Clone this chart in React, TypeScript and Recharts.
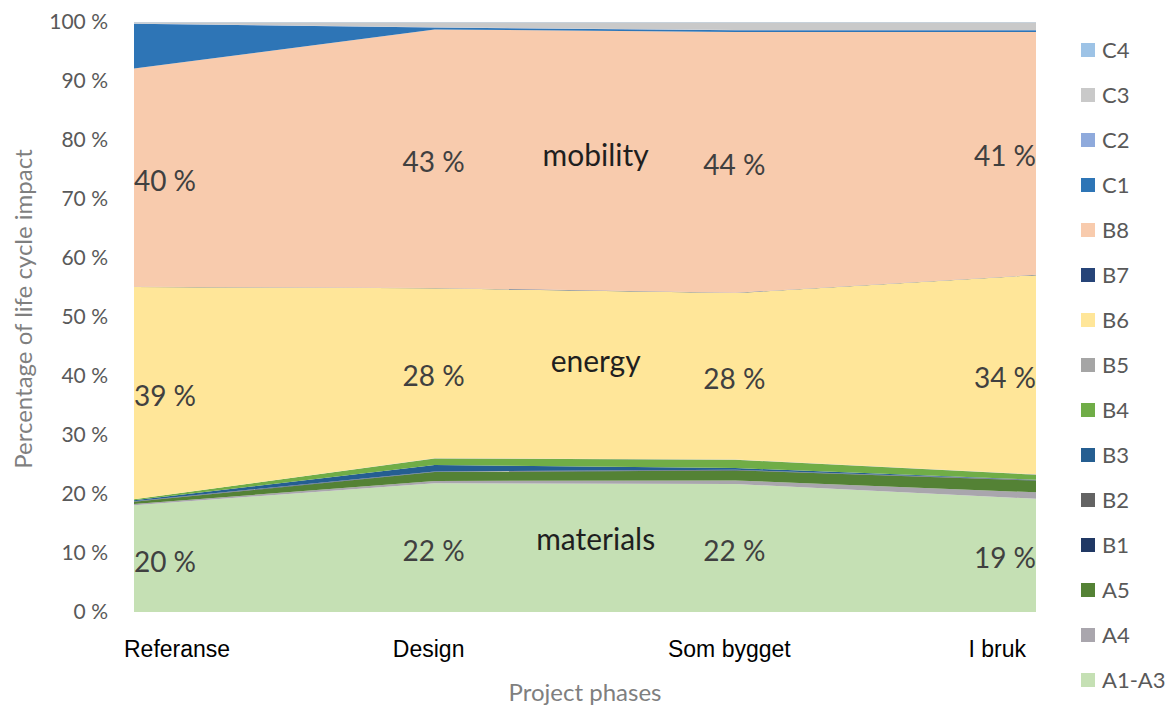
import { AreaChart, Area, XAxis, YAxis, ReferenceDot } from "recharts";

const phases = ["Referanse", "Design", "Som bygget", "I bruk"];

// share of life cycle impact per module (%)
const a1a3 = [18.1, 21.8, 21.7, 19.2];
const a4 = [0.2, 0.4, 0.6, 1.1];
const a5 = [0.4, 1.5, 1.7, 2.0];
const b1 = [0.05, 0.05, 0.05, 0.05];
const b2 = [0.05, 0.05, 0.05, 0.05];
const b3 = [0.15, 1.1, 0.3, 0.05];
const b4 = [0.15, 1.1, 1.4, 0.85];
const b5 = [0.0, 0.05, 0.05, 0.05];
const b6 = [36.0, 28.8, 28.2, 33.8];
const b7 = [0.05, 0.05, 0.05, 0.05];
const b8 = [37.0, 43.8, 44.2, 41.2];
const c1 = [7.6, 0.3, 0.3, 0.3];
const c2 = [0.05, 0.05, 0.05, 0.05];
const c3 = [0.2, 0.85, 1.3, 1.3];
const c4 = [0.05, 0.05, 0.05, 0.05];

// printed labels
const mobilityPct = [40, 43, 44, 41];
const energyPct = [39, 28, 28, 34];
const materialsPct = [20, 22, 22, 19];
const groupNames = ["mobility", "energy", "materials"];

const yTicks = [0, 0.1, 0.2, 0.3, 0.4, 0.5, 0.6, 0.7, 0.8, 0.9, 1];

const series = [
  { key: "A1-A3", values: a1a3, color: "#c5e0b4" },
  { key: "A4", values: a4, color: "#a9a6ad" },
  { key: "A5", values: a5, color: "#548235" },
  { key: "B1", values: b1, color: "#203864" },
  { key: "B2", values: b2, color: "#636363" },
  { key: "B3", values: b3, color: "#255e91" },
  { key: "B4", values: b4, color: "#70ad47" },
  { key: "B5", values: b5, color: "#a5a5a5" },
  { key: "B6", values: b6, color: "#ffe699" },
  { key: "B7", values: b7, color: "#264478" },
  { key: "B8", values: b8, color: "#f8cbad" },
  { key: "C1", values: c1, color: "#2e75b6" },
  { key: "C2", values: c2, color: "#8faadc" },
  { key: "C3", values: c3, color: "#c9c9c9" },
  { key: "C4", values: c4, color: "#9dc3e6" },
];

const data = phases.map((phase, i) => {
  const row: Record<string, string | number> = { phase };
  series.forEach((s) => (row[s.key] = s.values[i]));
  return row;
});

// middle of a band, as a share of the stacked total
const bandMid = (key: string, i: number) => {
  const total = series.reduce((sum, s) => sum + s.values[i], 0);
  let below = 0;
  for (const s of series) {
    if (s.key === key) return (below + s.values[i] / 2) / total;
    below += s.values[i];
  }
  return 0;
};

const pctShift = [32, 0, 0, -30];
const calibri = "Lato, 'Open Sans', sans-serif";

const textLabel = (text: string, dx: number, dy: number, size: number, color: string) => (props: any) => {
  const vb = props.viewBox || { x: 0, y: 0 };
  return (
    <text x={vb.x + dx} y={vb.y + dy} textAnchor="middle" dominantBaseline="central" fontSize={size} fill={color} fontFamily={calibri}>
      {text}
    </text>
  );
};

const XTick = ({ x = 0, y = 0, payload, index }: any) => {
  const last = index === phases.length - 1;
  const anchor = index === 0 ? "start" : last ? "end" : "middle";
  const dx = index === 0 ? -10 : last ? -10 : -6;
  return (
    <text x={x + dx} y={y} dy="0.71em" textAnchor={anchor} fontSize={23} fill="#000" fontFamily="'Liberation Sans', Arial, sans-serif">
      {payload?.value}
    </text>
  );
};

const LegendBox = () => (
  <div style={{ position: "absolute", left: 1081, top: 27, width: 87, display: "flex", flexDirection: "column" }}>
    {[...series].reverse().map((s) => (
      <div key={s.key} style={{ height: 45, display: "flex", alignItems: "center" }}>
        <span style={{ width: 14, height: 14, background: s.color, marginRight: 7, display: "inline-block", flexShrink: 0 }} />
        <span style={{ fontSize: 22, color: "#595959", fontFamily: calibri, whiteSpace: "nowrap" }}>{s.key}</span>
      </div>
    ))}
  </div>
);

const groups = [
  { key: "B8", pct: mobilityPct },
  { key: "B6", pct: energyPct },
  { key: "A1-A3", pct: materialsPct },
];
const groupDy = [-6, -14, -9];

const App = () => {
  return (
    <div style={{ position: "absolute", left: 0, top: 0, width: 1168, height: 705, background: "#fff", overflow: "hidden" }}>
      <AreaChart width={1168} height={705} data={data} stackOffset="expand" margin={{ top: 22, right: 132, bottom: 0, left: 0 }}>
        <XAxis dataKey="phase" axisLine={false} tickLine={false} tickSize={0} tickMargin={29} height={93} tick={<XTick />} interval={0} />
        <YAxis
          width={134}
          axisLine={false}
          tickLine={false}
          tickSize={0}
          tickMargin={26}
          ticks={yTicks}
          domain={[0, 1]}
          tickFormatter={(v: number) => `${Math.round(v * 100)} %`}
          tick={{ fontSize: 21, fill: "#595959", fontFamily: calibri }}
        />
        {series.map((s) => (
          <Area
            key={s.key}
            type="linear"
            dataKey={s.key}
            stackId="1"
            fill={s.color}
            fillOpacity={1}
            stroke="none"
            isAnimationActive={false}
          />
        ))}
        {groups.map((g) =>
          phases.map((p, i) => (
            <ReferenceDot
              key={`${g.key}-${p}`}
              x={p}
              y={bandMid(g.key, i)}
              r={1}
              fill="none"
              stroke="none"
              label={textLabel(`${g.pct[i]} %`, pctShift[i], 3, 28, "#404040")}
            />
          ))
        )}
        {groups.map((g, k) => (
          <ReferenceDot
            key={`name-${g.key}`}
            x="Design"
            y={(bandMid(g.key, 1) + bandMid(g.key, 2)) / 2}
            r={1}
            fill="none"
            stroke="none"
            label={textLabel(groupNames[k], 162, groupDy[k], 30, "#1f1f1f")}
          />
        ))}
      </AreaChart>
      <svg width={1168} height={705} style={{ position: "absolute", left: 0, top: 0, pointerEvents: "none" }}>
        <text x={22} y={309} transform="rotate(-90 22 309)" textAnchor="middle" dominantBaseline="central" fontSize={24} fill="#7f7f7f" fontFamily={calibri}>
          Percentage of life cycle impact
        </text>
        <text x={585} y={701} textAnchor="middle" fontSize={24} fill="#7f7f7f" fontFamily={calibri}>
          Project phases
        </text>
      </svg>
      <LegendBox />
    </div>
  );
};

export default App;
